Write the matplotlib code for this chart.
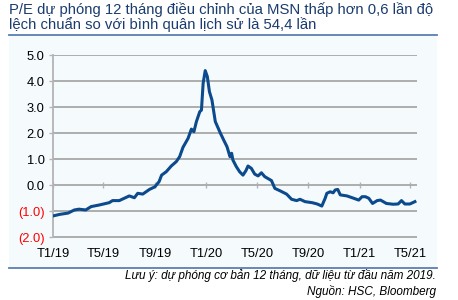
import pandas as pd
import matplotlib.pyplot as plt
from matplotlib.patches import Rectangle
from matplotlib.lines import Line2D

plt.rcParams['font.family'] = ['Liberation Sans', 'DejaVu Sans']

# do lech chuan cua P/E du phong (so lan)
ngay = ['2019-01-01', '2019-01-17', '2019-02-06', '2019-02-21', '2019-03-04',
        '2019-03-20', '2019-04-02', '2019-04-21', '2019-05-15', '2019-05-23',
        '2019-06-08', '2019-07-02', '2019-07-14', '2019-07-22', '2019-08-03',
        '2019-08-19', '2019-09-01', '2019-09-11', '2019-09-17', '2019-09-28',
        '2019-10-10', '2019-10-22', '2019-10-30', '2019-11-07', '2019-11-19',
        '2019-11-27', '2019-12-03', '2019-12-09', '2019-12-17', '2019-12-21',
        '2019-12-25', '2019-12-30', '2020-01-04', '2020-01-09', '2020-01-15',
        '2020-01-23', '2020-02-04', '2020-02-12', '2020-02-20', '2020-02-27',
        '2020-03-02', '2020-03-05', '2020-03-13', '2020-03-21', '2020-03-29',
        '2020-04-05', '2020-04-10', '2020-04-18', '2020-04-26', '2020-05-04',
        '2020-05-12', '2020-05-20', '2020-06-05', '2020-06-13', '2020-06-25',
        '2020-07-11', '2020-07-23', '2020-08-04', '2020-08-12', '2020-08-24',
        '2020-09-10', '2020-09-22', '2020-10-03', '2020-10-11', '2020-10-15',
        '2020-10-23', '2020-10-30', '2020-11-04', '2020-11-10', '2020-11-16',
        '2020-12-02', '2020-12-18', '2020-12-30', '2021-01-07', '2021-01-15',
        '2021-01-23', '2021-02-01', '2021-02-12', '2021-02-20', '2021-03-06',
        '2021-03-22', '2021-04-03', '2021-04-11', '2021-04-19', '2021-05-01',
        '2021-05-13']
do_lech = [-1.19, -1.13, -1.08, -0.96, -0.93,
           -0.96, -0.83, -0.77, -0.68, -0.60,
           -0.60, -0.42, -0.49, -0.32, -0.35,
           -0.17, -0.07, 0.13, 0.38, 0.51,
           0.73, 0.90, 1.09, 1.45, 1.79,
           2.15, 2.05, 2.44, 2.82, 2.88,
           3.91, 4.40, 4.17, 3.59, 3.27,
           2.44, 2.00, 1.73, 1.47, 1.09,
           1.22, 0.96, 0.71, 0.51, 0.38,
           0.55, 0.73, 0.64, 0.42, 0.35,
           0.47, 0.32, 0.17, -0.13, -0.22,
           -0.35, -0.55, -0.60, -0.55, -0.64,
           -0.68, -0.73, -0.81, -0.51, -0.32,
           -0.26, -0.30, -0.19, -0.17, -0.38,
           -0.42, -0.51, -0.58, -0.45, -0.45,
           -0.51, -0.71, -0.60, -0.58, -0.71,
           -0.74, -0.73, -0.60, -0.73, -0.73,
           -0.64]

nhan_x = ['T1/19', 'T5/19', 'T9/19', 'T1/20', 'T5/20', 'T9/20', 'T1/21', 'T5/21']
moc_x = ['2019-01-01', '2019-05-01', '2019-09-01', '2020-01-01', '2020-05-01',
         '2020-09-01', '2021-01-01', '2021-05-01']
moc_y = [5, 4, 3, 2, 1, 0, -1, -2]
nhan_y = ['5.0', '4.0', '3.0', '2.0', '1.0', '0.0', '(1.0)', '(2.0)']

tieu_de = ('P/E dự phóng 12 tháng điều chỉnh của MSN thấp hơn 0,6 lần độ\n'
           'lệch chuẩn so với bình quân lịch sử là 54,4 lần')
ghi_chu = 'Lưu ý: dự phóng cơ bản 12 tháng, dữ liệu từ đầu năm 2019.'
nguon = 'Nguồn: HSC, Bloomberg'

xanh = '#0c4a8e'
xam = '#b4b4b4'

fig = plt.figure(figsize=(4.58, 3.0), dpi=100)
fig.patch.set_facecolor('white')

# nen xanh nhat va hai duong ke
fig.patches.append(Rectangle((9 / 458, 1 - 268 / 300), 428 / 458, 233 / 300,
                             transform=fig.transFigure, facecolor='#f5fbfd',
                             edgecolor='none', zorder=-2))
for yy in [1 - 35 / 300, 1 - 268 / 300]:
    fig.lines.append(Line2D([9 / 458, 437 / 458], [yy, yy], transform=fig.transFigure,
                            color='#5b7eb0', lw=1.3, zorder=-1))

fig.text(9 / 458, 1 - 2 / 300, tieu_de, ha='left', va='top', fontsize=10.7,
         color='#1a3c6e', linespacing=1.0)
fig.text(436 / 458, 1 - 275 / 300, ghi_chu, ha='right', va='center', fontsize=8.5,
         style='italic')
fig.text(436 / 458, 1 - 291 / 300, nguon, ha='right', va='center', fontsize=8.5,
         style='italic')

# truc y keo xuong -2.3 de duong luoi (2.0) nam trong vung ve
ax = fig.add_axes([53 / 458, 1 - 244.8 / 300, 364 / 458, 189.8 / 300])
ax.set_facecolor('none')
ax.set_axisbelow(True)

x = pd.to_datetime(ngay)
ax.plot(x, do_lech, color=xanh, lw=2.2, zorder=3)

ax.set_xlim(pd.Timestamp('2019-01-01'), pd.Timestamp('2021-05-18'))
ax.set_ylim(-2.3, 5)
ax.set_yticks(moc_y)
ax.set_yticklabels(nhan_y)
for t, s in zip(ax.get_yticklabels(), nhan_y):
    t.set_color('#ff0000' if s.startswith('(') else 'black')
ax.tick_params(axis='y', length=3, width=1, color=xam, labelsize=9.3, pad=3)
ax.yaxis.grid(True, color='#adadad', lw=1.4)

for s in ['top', 'right']:
    ax.spines[s].set_visible(False)
ax.spines['left'].set_color(xam)
ax.spines['left'].set_linewidth(1.3)
ax.spines['left'].set_bounds(-2, 5)
ax.spines['bottom'].set_position(('data', 0))
ax.spines['bottom'].set_visible(False)

ax.set_xticks(pd.to_datetime(moc_x))
ax.tick_params(axis='x', direction='inout', length=4, width=1, color=xam,
               labelbottom=False)

# truc phu chi de ghi nhan thang o day bieu do
ax2 = ax.secondary_xaxis('bottom')
ax2.set_xticks(pd.to_datetime(moc_x))
ax2.set_xticklabels(nhan_x)
ax2.tick_params(axis='x', length=0, labelsize=9.3, pad=2)
ax2.spines['bottom'].set_visible(False)

fig.savefig('out.png', dpi=100)
